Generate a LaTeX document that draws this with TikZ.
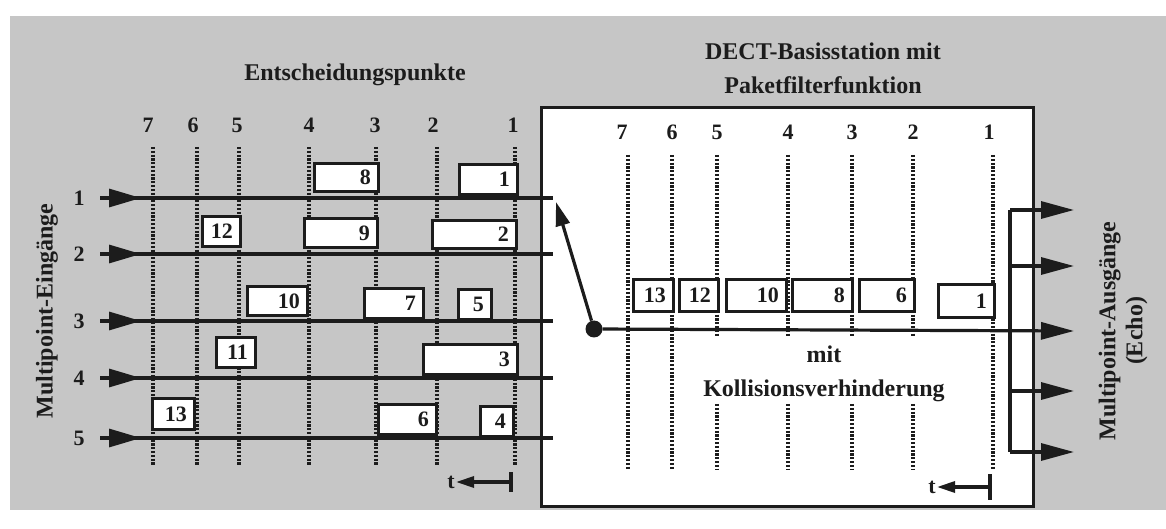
\documentclass[tikz,border=0pt]{standalone}
\usepackage{fontspec}
\setmainfont{Liberation Serif}
\usetikzlibrary{arrows.meta,positioning}
\definecolor{Ink}{HTML}{1C1C1C}
\definecolor{Screen}{HTML}{C6C6C6}
% one packet: name, left, top, width, height, number
\newcommand{\pkt}[6]{%
  \node[packet,minimum width=#4bp,minimum height=#5bp,anchor=north west] (#1) at (#2,#3) {};
  \node[num,anchor=east] (#1n) at ([xshift=-9bp]#1.east) {#6};}
\tikzset{txt/.style={font=\bfseries\fontsize{24bp}{34bp}\selectfont,text=Ink,align=center,inner sep=0pt},
  num/.style={font=\bfseries\fontsize{22bp}{24bp}\selectfont,text=Ink,inner sep=0pt},
  packet/.style={draw=Ink,fill=white,line width=3bp,inner sep=0pt},
  wire/.style={draw=Ink,line width=3.2bp},
  slot/.style={draw=Ink,line width=3.2bp,dash pattern=on 2.2bp off 1.6bp},
  feed/.style={wire,-{Triangle[length=32bp,width=18bp]}},
  outarrow/.style={wire,-{Triangle[length=33bp,width=17bp]}},
  tarrow/.style={wire,-{Triangle[length=18bp,width=11bp]}}}

\begin{document}
\begin{tikzpicture}[x=1bp,y=-1bp]
  \useasboundingbox (0,0) rectangle (1166,529);
  \fill[Screen] (10,16) rectangle (1166,510);
  \node[draw=Ink,fill=white,line width=3.2bp,minimum width=492bp,minimum height=399bp,
    anchor=north west,inner sep=0pt] (dect) at (540,106) {};

  % titles
  \node[txt] (entsch) at (355,75) {Entscheidungspunkte};
  \node[txt] (station) at (823,68) {DECT-Basisstation mit\\Paketfilterfunktion};
  \node[txt] (koll) at (824,374) {mit\\Kollisionsverhinderung};
  \node[txt,rotate=90] (ein) at (47,311) {Multipoint-Eingänge};
  \node[txt,rotate=90,font=\bfseries\fontsize{24bp}{27bp}\selectfont] (aus) at (1123,331)
    {Multipoint-Ausgänge\\(Echo)};

  % decision points, inputs
  \foreach \n/\x/\lx in {7/153/148,6/197/193,5/239/237,4/309/309,3/376/375,2/437/433,1/515/513}{
    \node[num] (lc\n) at (\lx,125) {\n};
    \draw[slot] (\x,147) -- (\x,466);}
  % decision points, station
  \foreach \n/\x/\lx in {7/628/622,6/672/672,1/993/989}{
    \node[num] (rc\n) at (\lx,132) {\n};
    \draw[slot] (\x,155) -- (\x,470);}
  \foreach \n/\x in {5/717,4/788,3/852,2/913}{
    \node[num] (rc\n) at (\x,132) {\n};
    \draw[slot] (\x,155) -- (\x,337);
    \draw[slot] (\x,404) -- (\x,470);}

  % input lines
  \foreach \n/\y in {1/198,2/254,3/321,4/378,5/438}{
    \node[num] (in\n) at (79,\y) {\n};
    \coordinate (a\n) at (100,\y);
    \coordinate (h\n) at (141,\y);
    \coordinate (e\n) at (553,\y);
    \draw[wire] (a\n) -- (e\n);
    \draw[feed] (a\n) -- (h\n);}

  % switch
  \node[circle,fill=Ink,minimum size=17bp,inner sep=0pt] (hub) at (594,329) {};
  \coordinate (sw) at (556,202);
  \draw[wire,-{Triangle[length=24bp,width=14bp]}] (hub) -- (sw);

  % outputs
  \coordinate (b1) at (1010,210); \coordinate (o1) at (1074,210);
  \coordinate (b2) at (1010,266); \coordinate (o2) at (1074,266);
  \coordinate (o3) at (1074,331);
  \coordinate (b4) at (1010,391); \coordinate (o4) at (1074,391);
  \coordinate (b5) at (1010,452); \coordinate (o5) at (1074,452);
  \draw[wire] (b1) -- (b5);
  \draw[outarrow] (b1) -- (o1);
  \draw[outarrow] (b2) -- (o2);
  \draw[outarrow] (hub) -- (o3);
  \draw[outarrow] (b4) -- (o4);
  \draw[outarrow] (b5) -- (o5);

  % packets at the inputs
  \pkt{l8}{313}{162}{64}{28}{8}
  \pkt{l1}{458}{163}{58}{30}{1}
  \pkt{l12}{201}{215}{38}{30}{12}
  \pkt{l9}{303}{217}{73}{29}{9}
  \pkt{l2}{431}{219}{84}{28}{2}
  \pkt{l10}{246}{285}{60}{29}{10}
  \pkt{l7}{363}{287}{59}{30}{7}
  \pkt{l5}{457}{288}{33}{30}{5}
  \pkt{l11}{215}{336}{39}{30}{11}
  \pkt{l3}{422}{343}{94}{30}{3}
  \pkt{l13}{151}{397}{42}{31}{13}
  \pkt{l6}{377}{403}{58}{30}{6}
  \pkt{l4}{479}{405}{33}{30}{4}
  % packets in the station
  \pkt{r13}{632}{278}{40}{32}{13}
  \pkt{r12}{678}{278}{39}{32}{12}
  \pkt{r10}{725}{278}{60}{32}{10}
  \pkt{r8}{791}{278}{60}{32}{8}
  \pkt{r6}{858}{278}{55}{32}{6}
  \pkt{r1}{937}{283}{56}{33}{1}

  % time axes
  \coordinate (lt0) at (511,482); \coordinate (lt1) at (456,482);
  \draw[wire] (511,472) -- (511,492);
  \draw[tarrow] (lt0) -- (lt1);
  \node[num,left=1bp of lt1] (ltt) {t};
  \coordinate (rt0) at (990,487); \coordinate (rt1) at (937,487);
  \draw[wire] (990,474) -- (990,500);
  \draw[tarrow] (rt0) -- (rt1);
  \node[num,left=1bp of rt1] (rtt) {t};
\end{tikzpicture}
\end{document}
